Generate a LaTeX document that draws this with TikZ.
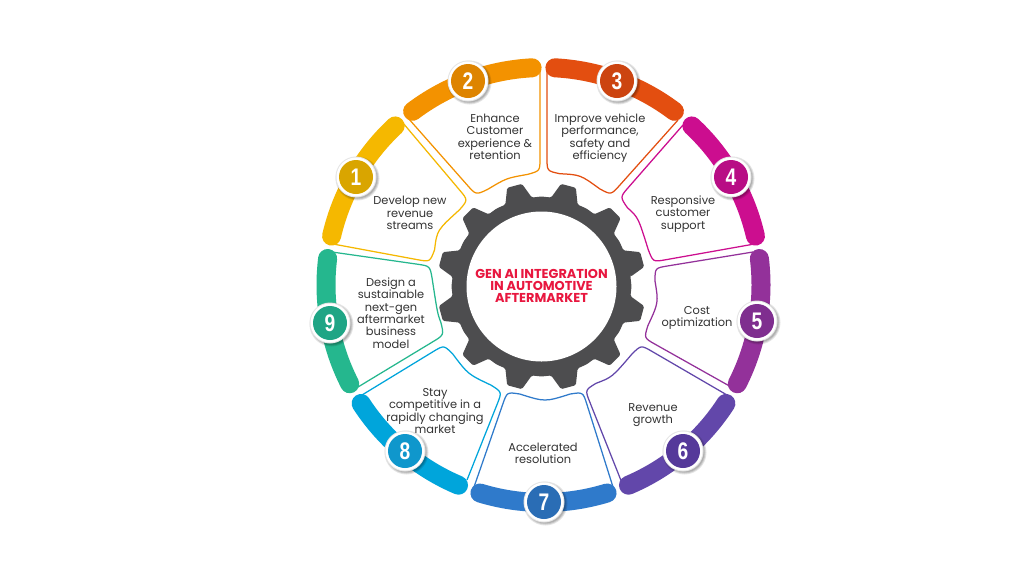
\documentclass[tikz,border=0pt]{standalone}
\usepackage{fontspec}
\setmainfont{Poppins}
\newfontfamily\numfont{Liberation Sans}[Scale=1]
\usetikzlibrary{calc}
\definecolor{cA}{HTML}{F5B800}\definecolor{dA}{HTML}{D9A500}
\definecolor{cB}{HTML}{F39200}\definecolor{dB}{HTML}{DE8400}
\definecolor{cC}{HTML}{E34E10}\definecolor{dC}{HTML}{CC4410}
\definecolor{cD}{HTML}{CC0E8F}\definecolor{dD}{HTML}{B80D85}
\definecolor{cE}{HTML}{93319A}\definecolor{dE}{HTML}{7F2E8F}
\definecolor{cF}{HTML}{6247AA}\definecolor{dF}{HTML}{55399A}
\definecolor{cG}{HTML}{2F7ACB}\definecolor{dG}{HTML}{2A6DB5}
\definecolor{cH}{HTML}{00A5DB}\definecolor{dH}{HTML}{0F97CC}
\definecolor{cI}{HTML}{25B78E}\definecolor{dI}{HTML}{1FA585}
\definecolor{gearc}{HTML}{4D4D4F}
\definecolor{titlec}{HTML}{E8173F}
\definecolor{labelc}{HTML}{333333}
\tikzset{
  segline/.style={line width=19pt,line cap=round},
  outline/.style={line width=1.25pt,line join=round},
  lab/.style={font=\fontsize{11.4}{12.4}\selectfont,text=labelc,align=center,inner sep=0pt},
  title/.style={font=\fontsize{12.9}{12.4}\selectfont\bfseries,text=titlec,align=center,inner sep=0pt},
  num/.style={font=\fontsize{24}{24}\numfont\bfseries,text=white,inner sep=0pt,xscale=.8}
}
% #1 colour, #2 side start, #3 corner, #4 arc mid, #5 corner, #6 side end
\newcommand{\petal}[6]{%
  \coordinate (p1) at (#2); \coordinate (c1) at (#3); \coordinate (mm) at (#4);
  \coordinate (c2) at (#5); \coordinate (p2) at (#6);
  \coordinate (a) at ($(c1)!13pt!(mm)$); \coordinate (b) at ($(c2)!13pt!(mm)$);
  \draw[outline,draw=#1] (p1) -- ($(c1)!13pt!(p1)$) .. controls (c1) .. (a)
     .. controls ($2*(mm)-0.5*(a)-0.5*(b)$) .. (b)
     .. controls (c2) .. ($(c2)!13pt!(p2)$) -- (p2);
}
\newcommand{\seg}[3]{%
  \draw[segline,draw=#1] plot[domain=#2:#3,samples=40] ({543.5+217.5*cos(\x)},{285-217.5*sin(\x)});
}
\newcommand{\badge}[5]{% name, x,y, colour, digit
  \foreach \o/\r in {0.10/22,0.12/21,0.12/20}{
    \fill[black,opacity=\o] (#2+1.5,#3+1.5) circle[radius=\r];
  }
  \fill[black!10] (#2,#3) circle[radius=20.5];
  \fill[white] (#2,#3) circle[radius=19.5];
  \fill[#4] (#2,#3) circle[radius=17];
  \node[num] (#1) at (#2,#3) {#5};
}
\begin{document}
\begin{tikzpicture}[x=1pt,y=-1pt]
\useasboundingbox (0,0) rectangle (1024,576);
\fill[white] (0,0) rectangle (1024,576);
% gear
\fill[gearc,rounded corners=1.5pt] ({541.5+89.5*cos(6.2)},{286.5-89.5*sin(6.2)})
  \foreach \k in {0,...,11}{
    \pgfextra{\pgfmathsetmacro{\t}{15+30*\k}}
    -- ({541.5+89.5*cos(\t-8.8)},{286.5-89.5*sin(\t-8.8)})
    -- ({541.5+104.5*cos(\t-4.2)},{286.5-104.5*sin(\t-4.2)})
    -- ({541.5+104.5*cos(\t+4.2)},{286.5-104.5*sin(\t+4.2)})
    -- ({541.5+89.5*cos(\t+8.8)},{286.5-89.5*sin(\t+8.8)})
    -- ({541.5+90*cos(\t+15)},{286.5-90*sin(\t+15)})
  } -- cycle;
\fill[white] (541.5,286.5) circle[radius=75];
% petals
\petal{cA}{403,123}{468,200}{442,230}{430,262}{333,244}
\petal{cB}{408,118}{476,195}{507,180}{540,171}{540,70}
\petal{cC}{547,70}{547,171}{580,178}{611,195}{678,120}
\petal{cD}{683,125}{620,197}{638,223}{653,262}{760,243}
\petal{cE}{753,252}{655,268}{655,303}{644,338}{733,388}
\petal{cF}{727,395}{641,345}{613,373}{585,390}{622,483}
\petal{cG}{613,487}{583,392}{545,398}{507,392}{474,487}
\petal{cH}{467,480}{502,392}{470,372}{444,345}{362,395}
\petal{cI}{358,387}{444,335}{437,307}{430,266}{332,252}
% ring
\seg{cA}{133}{167}
\seg{cB}{93}{127}
\seg{cC}{53}{87}
\seg{cD}{13}{47}
\seg{cE}{-27}{7}
\seg{cF}{-67}{-33}
\seg{cG}{-107}{-73}
\seg{cH}{-147}{-113}
\seg{cI}{173}{207}
% badges
\badge{n1}{356}{177}{dA}{1}
\badge{n2}{468}{81}{dB}{2}
\badge{n3}{617}{81}{dC}{3}
\badge{n4}{731}{177}{dD}{4}
\badge{n5}{757}{321}{dE}{5}
\badge{n6}{683}{451}{dF}{6}
\badge{n7}{544}{502}{dG}{7}
\badge{n8}{405}{451}{dH}{8}
\badge{n9}{330}{323}{dI}{9}
% labels
\node[title] (t0) at (541.5,286) {GEN AI INTEGRATION\\IN AUTOMOTIVE\\AFTERMARKET};
\node[lab] (t1) at (410,213) {Develop new\\revenue\\streams};
\node[lab] (t2) at (495,137) {Enhance\\Customer\\experience \&\\retention};
\node[lab] (t3) at (600,138) {Improve vehicle\\performance,\\safety and\\efficiency};
\node[lab] (t4) at (683,214) {Responsive\\customer\\support};
\node[lab] (t5) at (697,318) {Cost\\optimization};
\node[lab] (t6) at (653,415) {Revenue\\growth};
\node[lab] (t7) at (543,453.5) {Accelerated\\resolution};
\node[lab] (t8) at (435,411) {Stay\\competitive in a\\rapidly changing\\market};
\node[lab] (t9) at (391,313) {Design a\\sustainable\\next-gen\\aftermarket\\business\\model};
\end{tikzpicture}
\end{document}
